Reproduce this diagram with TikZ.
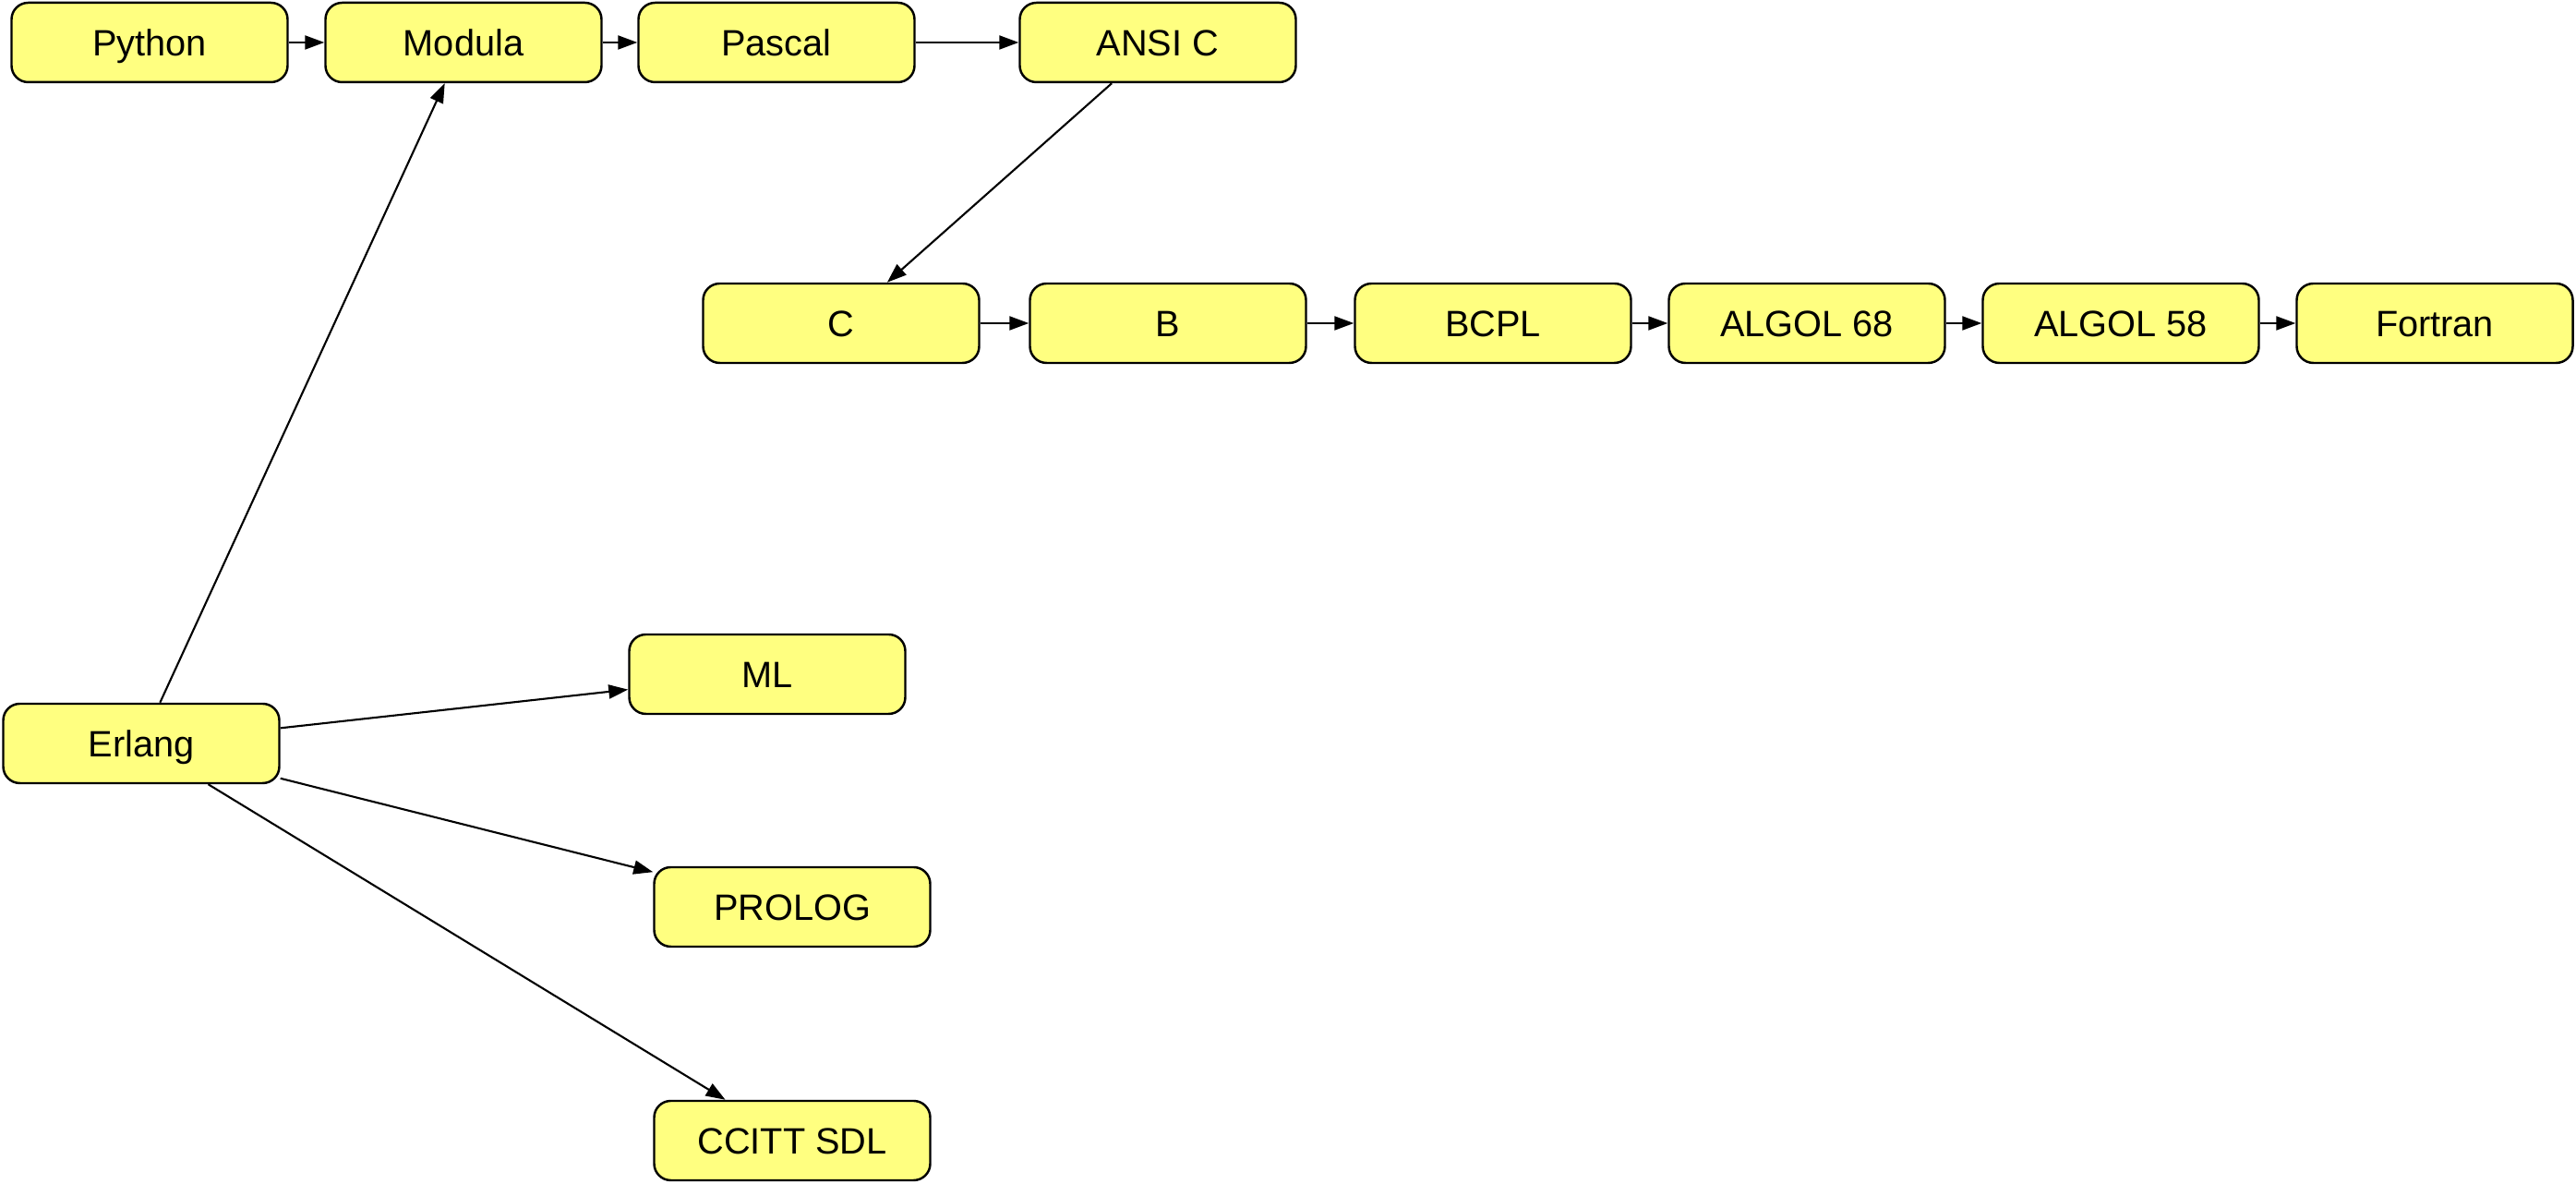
\documentclass[tikz,border=0pt]{standalone}
\usepackage{fontspec}
\setmainfont{Liberation Sans}
\usetikzlibrary{arrows.meta,positioning}
\definecolor{lgyellow}{HTML}{FFFF80}
\tikzset{
  lgnode/.style={
    rectangle, rounded corners=1.8mm, draw=black, fill=lgyellow, line width=0.7pt,
    minimum width=2.99cm, minimum height=0.86cm, inner sep=1pt,
    text height=1.85ex, text depth=0.3ex,
    font=\fontsize{11.3}{13}\selectfont
  },
  lgedge/.style={-{Triangle[length=2.1mm,width=1.5mm]},line width=0.6pt}
}

\begin{document}
\begin{tikzpicture}
  \useasboundingbox (0,0) rectangle (27.9,12.82);
  % top row
  \node[lgnode] (python) at (1.62,12.36) {Python};
  \node[lgnode] (modula) at (5.02,12.36) {Modula};
  \node[lgnode] (pascal) at (8.41,12.36) {Pascal};
  \node[lgnode] (ansic) at (12.54,12.36) {ANSI C};
  % second row
  \node[lgnode] (c) at (9.11,9.32) {C};
  \node[lgnode] (b) at (12.65,9.32) {B};
  \node[lgnode] (bcpl) at (16.17,9.32) {BCPL};
  \node[lgnode] (algolsixtyeight) at (19.57,9.32) {ALGOL 68};
  \node[lgnode] (algolfiftyeight) at (22.97,9.32) {ALGOL 58};
  \node[lgnode] (fortran) at (26.37,9.32) {Fortran};
  % Erlang and its sources
  \node[lgnode] (erlang) at (1.53,4.77) {Erlang};
  \node[lgnode] (ml) at (8.31,5.52) {ML};
  \node[lgnode] (prolog) at (8.58,3.00) {PROLOG};
  \node[lgnode] (ccitt) at (8.58,0.47) {CCITT SDL};

  \draw[lgedge] (python) -- (modula);
  \draw[lgedge] (modula) -- (pascal);
  \draw[lgedge] (pascal) -- (ansic);
  \draw[lgedge] (ansic) -- (c);
  \draw[lgedge] (c) -- (b);
  \draw[lgedge] (b) -- (bcpl);
  \draw[lgedge] (bcpl) -- (algolsixtyeight);
  \draw[lgedge] (algolsixtyeight) -- (algolfiftyeight);
  \draw[lgedge] (algolfiftyeight) -- (fortran);
  \draw[lgedge] (erlang) -- (modula);
  \draw[lgedge] (erlang) -- (ml);
  \draw[lgedge] (erlang) -- (prolog);
  \draw[lgedge] (erlang) -- (ccitt);
\end{tikzpicture}
\end{document}
